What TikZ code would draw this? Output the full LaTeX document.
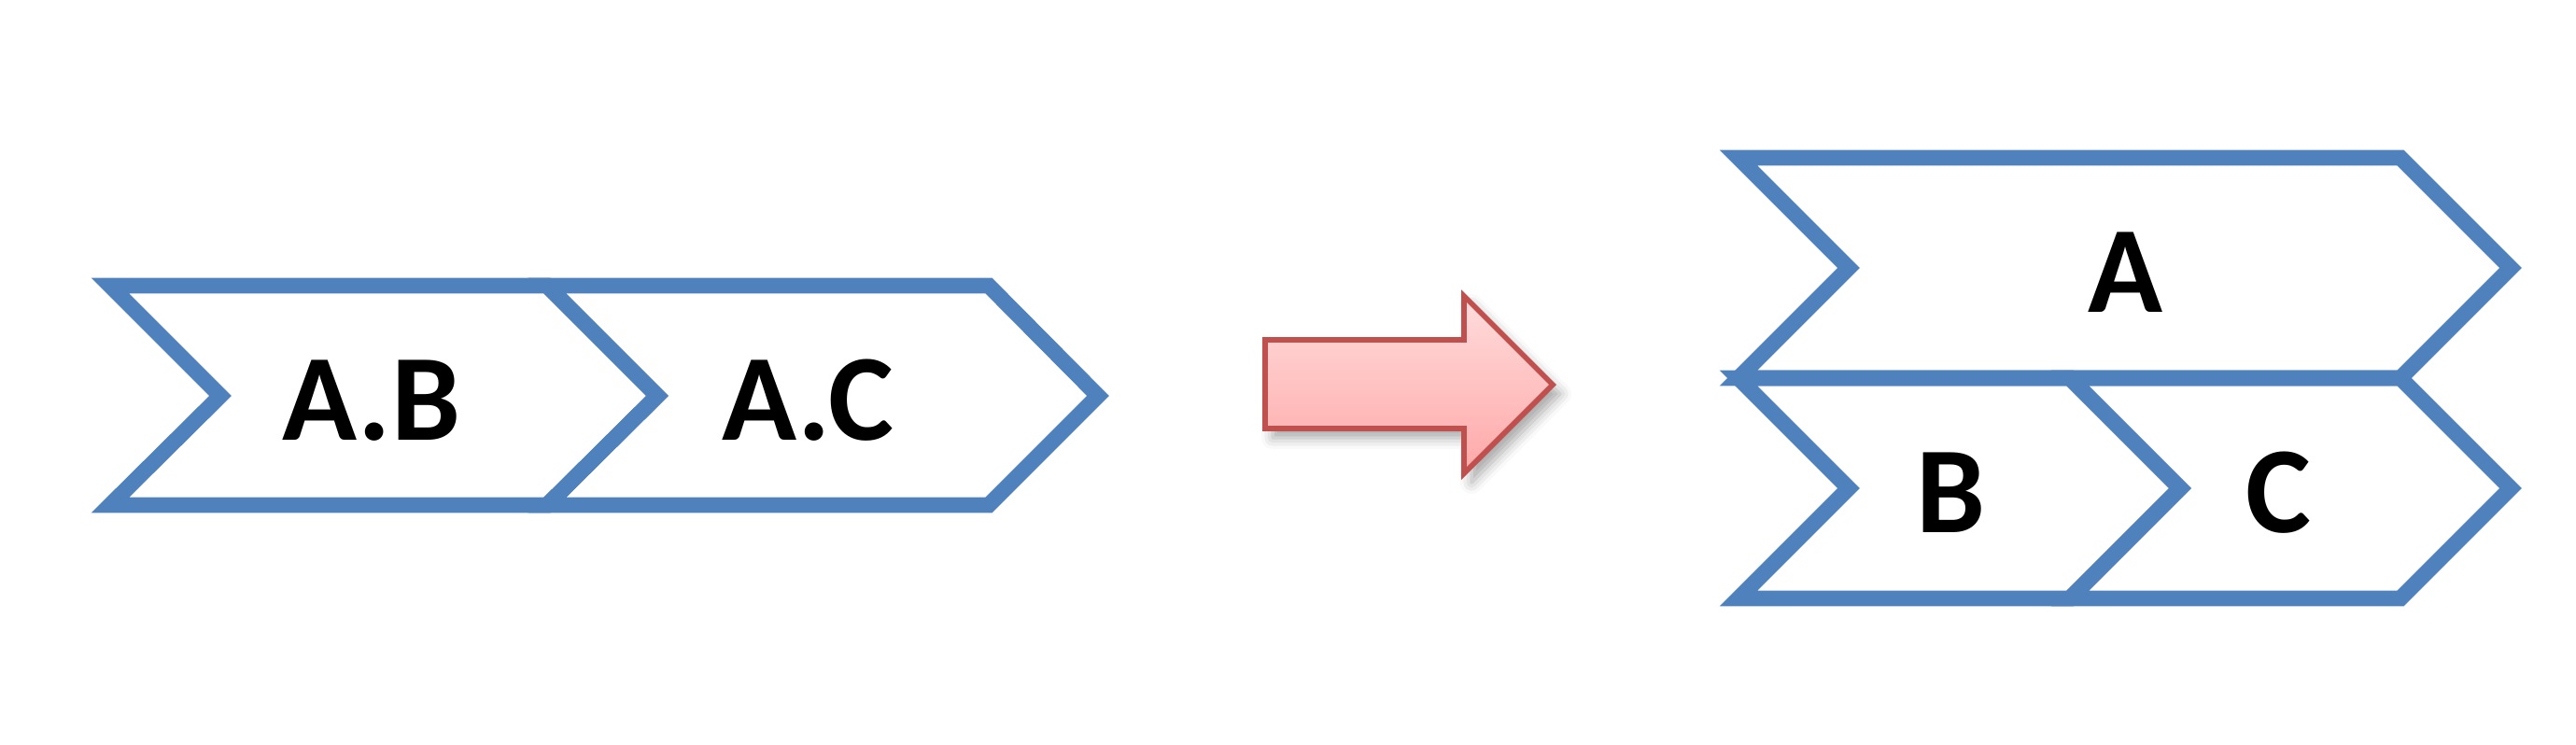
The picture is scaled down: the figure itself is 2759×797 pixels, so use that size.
\documentclass[tikz,border=0pt]{standalone}
\usepackage{fontspec}
\setmainfont{Carlito}
\usetikzlibrary{shadows.blur}
\definecolor{chevblue}{RGB}{79,129,189}
\definecolor{arrowred}{RGB}{192,80,77}
\definecolor{pinktop}{RGB}{255,220,220}
\definecolor{pinkbot}{RGB}{255,168,168}

\begin{document}
\begin{tikzpicture}[x=0.25pt,y=-0.25pt,
chevron/.style={draw=chevblue,line width=4.2pt},
chevtext/.style={font=\fontsize{33}{40}\selectfont\bfseries,inner sep=0pt,text=black},
bigarrow/.style={draw=arrowred,line width=1.4pt,top color=pinktop,bottom color=pinkbot,
    blur shadow={shadow xshift=2pt,shadow yshift=-2.5pt,shadow blur radius=3pt,shadow opacity=35}}
]
\useasboundingbox (0,0) rectangle (2759,797);

% left: one row
\draw[chevron] (118,306) -- (586,306) -- (704,424) -- (586,541) -- (118,541) -- (236,424) -- cycle;
\draw[chevron] (586,306) -- (1059,306) -- (1176,424) -- (1059,541) -- (586,541) -- (704,424) -- cycle;
\node[chevtext] (AB) at (398,429) {A.B};
\node[chevtext] (AC) at (865,429) {A.C};

% the arrow
\path[bigarrow] (1355,364) -- (1568,364) -- (1568,317) -- (1663,412) -- (1568,507)
   -- (1568,459) -- (1355,459) -- cycle;

% right: A over B and C
\draw[chevron] (1862,169) -- (2571,169) -- (2689,287) -- (2571,405) -- (1862,405) -- (1980,287) -- cycle;
\draw[chevron] (1862,405) -- (2217,405) -- (2335,523) -- (2217,641) -- (1862,641) -- (1980,523) -- cycle;
\draw[chevron] (2217,405) -- (2571,405) -- (2689,523) -- (2571,641) -- (2217,641) -- (2335,523) -- cycle;
\node[chevtext] (A) at (2276,292) {A};
\node[chevtext] (B) at (2089,528) {B};
\node[chevtext] (C) at (2440,528) {C};
\end{tikzpicture}
\end{document}
